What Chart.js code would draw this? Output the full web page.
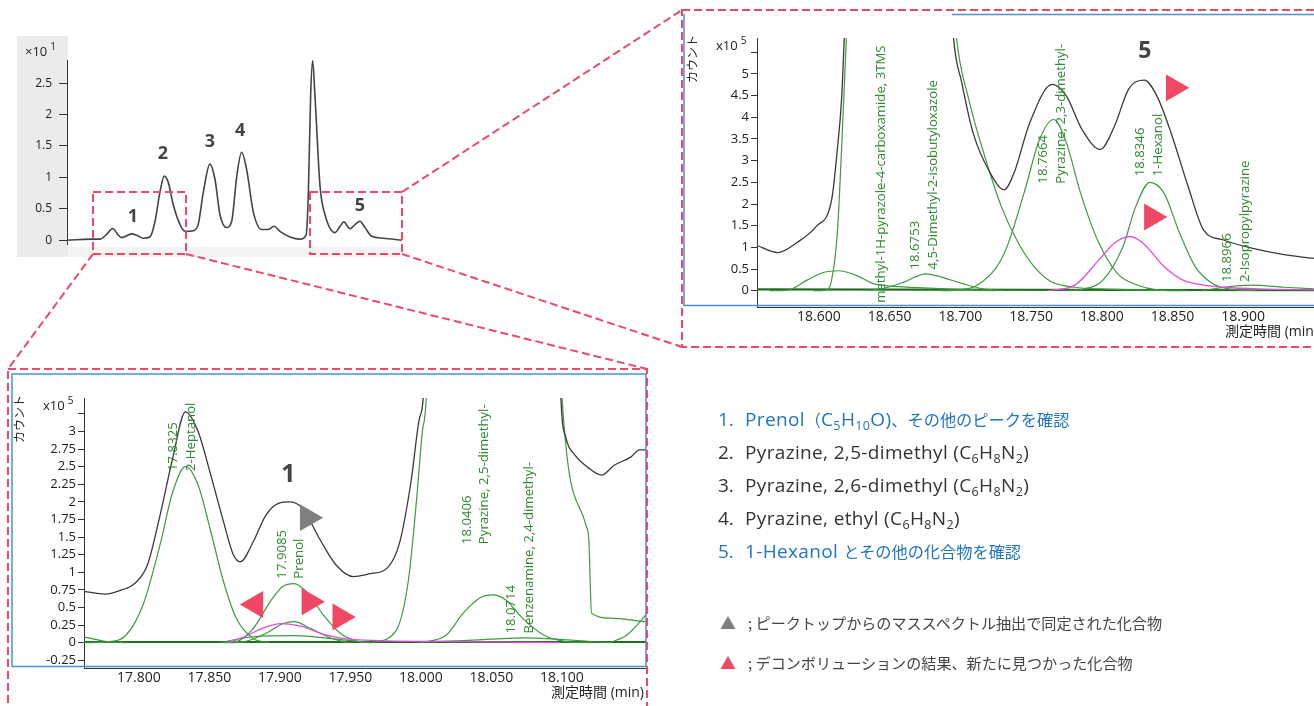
<!DOCTYPE html>
<html lang="ja">
<head>
<meta charset="utf-8">
<title>Deconvolution chromatogram</title>
<script src="https://cdn.jsdelivr.net/npm/chart.js@4.4.1/dist/chart.umd.min.js"></script>
<style>
  html, body { margin: 0; padding: 0; background: #fff; }
  body { width: 1314px; height: 706px; position: relative; overflow: hidden;
         font-family: 'Open Sans', 'Noto Sans CJK JP', sans-serif; }
  .box { position: absolute; }
  canvas { display: block; }
  svg { position: absolute; left: 0; top: 0; pointer-events: none; }
  .jp { font-family: 'Noto Sans CJK JP', sans-serif; letter-spacing: 0; }
  #legend { position: absolute; left: 718px; top: 403px; font-size: 19px; line-height: 33px;
            letter-spacing: 0.35px; color: #333; white-space: nowrap; }
  #legend .jp { font-size: 16.2px; }
  #legend .blue { color: #1f74c4; }
  #legend .num { display: inline-block; width: 27px; letter-spacing: 0; }
  #legend sub { font-size: 0.66em; vertical-align: -0.3em; line-height: 0; }
  #marks { position: absolute; left: 720px; top: 603px; font-size: 15.1px; line-height: 39px;
           color: #444; white-space: nowrap; }
  #marks .tri { display: inline-block; width: 28px; font-size: 16px; }
</style>
</head>
<body>
<svg width="1314" height="706">
  <rect x="17" y="36" width="51" height="221" fill="#ebebeb"/>
  <rect x="68" y="247" width="334" height="10" fill="#f3f3f3"/>
</svg>

<div class="box" style="left:17px;top:36px;"><canvas id="overview" width="390" height="221"></canvas></div>
<div class="box" style="left:684px;top:15px;"><canvas id="zoom5" width="636" height="335"></canvas></div>
<div class="box" style="left:12px;top:376px;"><canvas id="zoom1" width="634" height="330"></canvas></div>

<svg width="1314" height="706">
  <g stroke="#4a8fd6" stroke-width="1.5" fill="none">
    <path d="M952 14.5 H1314"/>
    <path d="M684 14 V305.5 H1314"/>
    <rect x="12" y="374" width="634" height="292.5"/>
  </g>
  <g stroke="#ec4a6c" stroke-width="2" stroke-dasharray="8 4" fill="none">
    <rect x="93" y="192" width="93" height="62"/>
    <rect x="310" y="192" width="92" height="62"/>
    <path d="M93 254 L8 369"/>
    <path d="M186 254 L647 369"/>
    <path d="M402 192 L682 10"/>
    <path d="M402 254 L682 347"/>
    <rect x="682" y="10" width="650" height="337"/>
    <rect x="8" y="369" width="639" height="350"/>
  </g>
</svg>

<div id="legend">
  <div class="blue"><span class="num">1.</span>Prenol<span class="jp">（</span>C<sub>5</sub>H<sub>10</sub>O)<span class="jp">、その他のピークを確認</span></div>
  <div><span class="num">2.</span>Pyrazine, 2,5-dimethyl (C<sub>6</sub>H<sub>8</sub>N<sub>2</sub>)</div>
  <div><span class="num">3.</span>Pyrazine, 2,6-dimethyl (C<sub>6</sub>H<sub>8</sub>N<sub>2</sub>)</div>
  <div><span class="num">4.</span>Pyrazine, ethyl (C<sub>6</sub>H<sub>8</sub>N<sub>2</sub>)</div>
  <div class="blue"><span class="num">5.</span>1-Hexanol <span class="jp">とその他の化合物を確認</span></div>
</div>
<div id="marks">
  <div><span class="tri" style="color:#808080">▲</span><span class="jp">; ピークトップからのマススペクトル抽出で同定された化合物</span></div>
  <div><span class="tri" style="color:#ef4764">▲</span><span class="jp">; デコンボリューションの結果、新たに見つかった化合物</span></div>
</div>

<script>
// ---- overview TIC ----
const overviewTime = [17.645, 17.731, 17.770, 17.796, 17.820, 17.842, 17.855, 17.895, 17.915, 17.941,
  17.967, 17.987, 18.006, 18.023, 18.039, 18.059, 18.085, 18.105, 18.138, 18.157, 18.177, 18.203,
  18.223, 18.243, 18.269, 18.289, 18.309, 18.328, 18.348, 18.374, 18.407, 18.433, 18.456, 18.479,
  18.519, 18.558, 18.582, 18.591, 18.600, 18.608, 18.617, 18.637, 18.657, 18.696, 18.716, 18.731,
  18.755, 18.768, 18.794, 18.814, 18.841, 18.886, 18.959];
const overviewTic = [0, 0.015, 0.015, 0.09, 0.185, 0.08, 0.04, 0.10, 0.077, 0.03,
  0.05, 0.30, 0.76, 1.02, 0.92, 0.56, 0.25, 0.14, 0.15, 0.25, 0.76, 1.21,
  0.97, 0.40, 0.20, 0.30, 1.02, 1.40, 1.12, 0.45, 0.17, 0.17, 0.22, 0.14,
  0.05, 0.015, 0.08, 0.76, 2.30, 2.86, 2.30, 0.86, 0.40, 0.12, 0.22, 0.29,
  0.18, 0.22, 0.30, 0.20, 0.06, 0.03, 0];
const overviewYTicks = [0, 0.5, 1, 1.5, 2, 2.5];
const overviewPeakNames = ['1', '2', '3', '4', '5'];
const overviewPeakAt = [[17.900, 0.37], [18.018, 1.37], [18.203, 1.56], [18.322, 1.74], [18.794, 0.54]];

// ---- zoom on peak 5 ----
const zoom5Tic = [[18.555, 1.06], [18.571, 0.88], [18.584, 1.10], [18.598, 1.48], [18.609, 2.10],
  [18.613, 3.26], [18.616, 4.41], [18.618, 5.9], [18.622, 9], [18.690, 9], [18.695, 5.9],
  [18.701, 4.80], [18.709, 3.64], [18.721, 2.72], [18.731, 2.33], [18.738, 2.72], [18.749, 3.87],
  [18.765, 4.76], [18.775, 4.49], [18.786, 3.72], [18.799, 3.26], [18.809, 3.80], [18.819, 4.65],
  [18.830, 4.86], [18.839, 4.49], [18.849, 3.64], [18.861, 2.41], [18.872, 1.40], [18.886, 1.17],
  [18.906, 0.98], [18.929, 0.83], [18.949, 0.75], [18.956, 0.73]];
const zoom5BigPeak = [[18.596, 0], [18.605, 0.015], [18.609, 0.25], [18.613, 1.33], [18.616, 3.26],
  [18.6195, 5.9], [18.624, 9], [18.690, 9], [18.697, 5.9], [18.706, 4.41], [18.718, 3.02],
  [18.729, 1.94], [18.741, 1.10], [18.752, 0.56], [18.764, 0.21], [18.781, 0.08], [18.800, 0.04],
  [18.830, 0.02], [18.860, 0]];
const zoom5Carboxamide = [[18.565, 0], [18.578, 0.015], [18.592, 0.25], [18.603, 0.42], [18.614, 0.46],
  [18.626, 0.36], [18.638, 0.17], [18.649, 0.11], [18.670, 0.07], [18.700, 0.03], [18.725, 0]];
const zoom5Oxazole = [[18.635, 0], [18.649, 0.08], [18.661, 0.21], [18.6755, 0.39], [18.686, 0.32],
  [18.701, 0.17], [18.715, 0.05], [18.730, 0]];
const zoom5Pyrazine23 = [[18.686, 0], [18.697, 0.015], [18.714, 0.17], [18.731, 0.86], [18.745, 2.25],
  [18.756, 3.49], [18.766, 3.95], [18.775, 3.41], [18.785, 2.25], [18.797, 1.17], [18.811, 0.40],
  [18.825, 0.13], [18.839, 0.02], [18.856, 0]];
const zoom5Hexanol = [[18.775, 0], [18.786, 0.03], [18.801, 0.25], [18.815, 1.02], [18.824, 1.94],
  [18.834, 2.50], [18.844, 2.25], [18.855, 1.33], [18.866, 0.56], [18.878, 0.17], [18.892, 0.03], [18.910, 0]];
const zoom5NewPeak = [[18.762, 0], [18.781, 0.13], [18.798, 0.71], [18.809, 1.10], [18.820, 1.25],
  [18.829, 1.10], [18.844, 0.56], [18.857, 0.25], [18.872, 0.13], [18.886, 0.08], [18.910, 0.04], [18.956, 0.02]];
const zoom5Isopropyl = [[18.870, 0], [18.895, 0.11], [18.906, 0.13], [18.929, 0.08], [18.956, 0.03]];
const zoom5Baseline = [[18.556, 0.03], [18.956, 0.01]];
const zoom5XTicks = [18.6, 18.65, 18.7, 18.75, 18.8, 18.85, 18.9];
const zoom5YTicks = [0, 0.5, 1, 1.5, 2, 2.5, 3, 3.5, 4, 4.5, 5, 5.5];
const zoom5YLabels = ['0', '0.5', '1', '1.5', '2', '2.5', '3', '3.5', '4', '4.5', '5', ''];
const zoom5LabelText = [
  ['methyl-1H-pyrazole-4-carboxamide, 3TMS'],
  ['18.6753', '4,5-Dimethyl-2-isobutyloxazole'],
  ['18.7664', 'Pyrazine, 2,3-dimethyl-'],
  ['18.8346', '1-Hexanol'],
  ['18.8966', '2-Isopropylpyrazine']
];
const zoom5LabelAt = [[18.6438, -0.28], [18.6743, 0.49], [18.7648, 2.47], [18.8337, 2.64], [18.8949, 0.2]];
const zoom5NewFound = [[18.8509, 4.68], [18.8354, 1.70]];

// ---- zoom on peak 1 ----
const zoom1Tic = [[17.761, 0.73], [17.776, 0.69], [17.788, 0.75], [17.797, 0.84], [17.806, 1.10],
  [17.815, 1.81], [17.824, 2.62], [17.833, 3.28], [17.842, 3.00], [17.851, 2.38], [17.860, 1.72],
  [17.867, 1.25], [17.872, 1.15], [17.881, 1.43], [17.890, 1.81], [17.899, 1.98], [17.907, 2.00],
  [17.916, 1.91], [17.928, 1.48], [17.940, 1.10], [17.952, 0.94], [17.964, 0.98], [17.976, 1.06],
  [17.985, 1.43], [17.993, 2.29], [17.999, 3.19], [18.002, 3.6], [18.006, 8], [18.095, 8],
  [18.099, 3.6], [18.103, 2.90], [18.109, 2.67], [18.119, 2.48], [18.128, 2.38], [18.137, 2.52],
  [18.149, 2.64], [18.155, 2.74], [18.162, 2.74]];
const zoom1LeftTail = [[17.761, 0.085], [17.776, 0.02], [17.791, 0]];
const zoom1Heptanol = [[17.761, 0], [17.779, 0.015], [17.791, 0.11], [17.803, 0.54], [17.815, 1.39],
  [17.824, 2.14], [17.833, 2.50], [17.842, 2.24], [17.851, 1.58], [17.860, 0.87], [17.869, 0.35],
  [17.881, 0.06], [17.893, 0]];
const zoom1Prenol = [[17.860, 0], [17.869, 0.015], [17.881, 0.2], [17.893, 0.58], [17.902, 0.80],
  [17.910, 0.84], [17.919, 0.72], [17.931, 0.39], [17.943, 0.13], [17.955, 0.02], [17.965, 0]];
const zoom1Minor = [[17.865, 0], [17.875, 0.015], [17.890, 0.13], [17.902, 0.27], [17.910, 0.30],
  [17.922, 0.20], [17.937, 0.06], [17.949, 0]];
const zoom1Broad = [[17.857, 0], [17.881, 0.085], [17.910, 0.10], [17.940, 0.05], [17.964, 0]];
const zoom1NewPeak = [[17.863, 0], [17.875, 0.085], [17.887, 0.2], [17.901, 0.27], [17.916, 0.23],
  [17.931, 0.12], [17.949, 0.05], [17.970, 0.03], [18.030, 0.015], [18.099, 0]];
const zoom1BigPeak = [[17.965, 0], [17.982, 0.16], [17.991, 0.87], [17.997, 2.05], [18.001, 3.0],
  [18.004, 3.6], [18.008, 8], [18.092, 8], [18.100, 3.5], [18.117, 1.67], [18.119, 1.48],
  [18.121, 0.42], [18.134, 0.35], [18.158, 0.30], [18.162, 0.29]];
const zoom1Pyrazine25 = [[18.000, 0], [18.018, 0.11], [18.030, 0.42], [18.042, 0.64], [18.051, 0.68],
  [18.060, 0.61], [18.072, 0.35], [18.087, 0.11], [18.102, 0.02], [18.120, 0]];
const zoom1Benzenamine = [[17.999, 0.01], [18.030, 0.03], [18.073, 0.07], [18.104, 0.04], [18.134, 0]];
const zoom1RightRise = [[18.134, 0], [18.146, 0.11], [18.162, 0.45]];
const zoom1Baseline = [[17.760, 0.01], [18.162, 0.01]];
const zoom1XTicks = [17.8, 17.85, 17.9, 17.95, 18.0, 18.05, 18.1];
const zoom1YTicks = [-0.25, 0, 0.25, 0.5, 0.75, 1, 1.25, 1.5, 1.75, 2, 2.25, 2.5, 2.75, 3, 3.25];
const zoom1YLabels = ['-0.25', '0', '0.25', '0.5', '0.75', '1', '1.25', '1.5', '1.75', '2', '2.25',
  '2.5', '2.75', '3', ''];
const zoom1LabelText = [
  ['17.8325', '2-Heptanol'],
  ['17.9085', 'Prenol'],
  ['18.0406', 'Pyrazine, 2,5-dimethyl-'],
  ['18.0714', 'Benzenamine, 2,4-dimethyl-']
];
const zoom1LabelAt = [[17.8306, 2.44], [17.9077, 0.91], [18.0388, 1.40], [18.0706, 0.13]];
const zoom1PeakTop = [[17.9197, 1.776]];
const zoom1NewFound = [[17.8826, 0.543], [17.9209, 0.582], [17.9428, 0.365]];
const zoom1NewFoundDir = ['left', 'right', 'right'];

const FONT = "'Open Sans', 'Noto Sans CJK JP', sans-serif";
const JP = "'Noto Sans CJK JP', sans-serif";
const BLACK = '#3a3a3a';
const GREEN = '#3f9a3f';
const PINK = '#e24ce2';
const RED = '#ef4764';

Chart.defaults.font.family = FONT;
Chart.defaults.color = '#222';

const toXY = arr => arr.map(([x, y]) => ({ x, y }));

function curve(points, color, width, order) {
  return {
    data: toXY(points), borderColor: color, borderWidth: width, pointRadius: 0,
    cubicInterpolationMode: 'monotone', fill: false, order: order
  };
}

function markers(points, color, dirs) {
  return {
    data: toXY(points), showLine: false, order: 0,
    pointStyle: 'triangle', pointRadius: 15.5, pointBorderWidth: 0,
    pointBackgroundColor: color,
    pointRotation: points.map((p, i) => (dirs && dirs[i] === 'left') ? -90 : 90)
  };
}

// draws rotated peak names, the big peak numbers and the axis captions
function annotations(cfg) {
  return {
    id: 'annot',
    afterDatasetsDraw(chart) {
      const { ctx, chartArea: a, scales: { x, y } } = chart;
      ctx.save();
      ctx.beginPath();
      ctx.rect(a.left, a.top, a.width, a.height);
      ctx.clip();
      ctx.fillStyle = '#2f8a2f';
      ctx.font = '13.2px ' + FONT;
      ctx.textAlign = 'left';
      ctx.textBaseline = 'middle';
      (cfg.labels || []).forEach((lines, i) => {
        const px = x.getPixelForValue(cfg.labelAt[i][0]);
        const py = y.getPixelForValue(cfg.labelAt[i][1]);
        lines.forEach((t, j) => {
          const off = (j - (lines.length - 1) / 2) * 17.5;
          ctx.save();
          ctx.translate(px + off, py);
          ctx.rotate(-Math.PI / 2);
          ctx.fillText(t, 0, 0);
          ctx.restore();
        });
      });
      ctx.fillStyle = '#444';
      ctx.font = cfg.numberFont;
      ctx.textAlign = 'center';
      cfg.numbers.forEach((n, i) => {
        ctx.fillText(n, x.getPixelForValue(cfg.numberAt[i][0]), y.getPixelForValue(cfg.numberAt[i][1]));
      });
      ctx.restore();
    },
    afterDraw(chart) {
      const { ctx, chartArea: a } = chart;
      ctx.save();
      ctx.fillStyle = '#222';
      ctx.textBaseline = 'middle';
      ctx.textAlign = 'left';
      ctx.font = '13px ' + FONT;
      const ex = a.left + cfg.expAt[0], ey = a.top + cfg.expAt[1];
      ctx.fillText(cfg.expBase, ex, ey);
      const w = ctx.measureText(cfg.expBase).width;
      ctx.font = '10px ' + FONT;
      ctx.fillText(cfg.exp, ex + w + 3, ey - 5);
      if (cfg.yTitle) {
        ctx.save();
        ctx.font = '12px ' + JP;
        ctx.textAlign = 'center';
        ctx.translate(a.left - 65, a.top + 21);
        ctx.rotate(-Math.PI / 2);
        ctx.fillText(cfg.yTitle, 0, 0);
        ctx.restore();
      }
      if (cfg.xTitle) {
        ctx.font = '14px ' + FONT;
        ctx.textAlign = 'right';
        ctx.fillText(cfg.xTitle, a.right - 2, a.bottom + 25);
      }
      ctx.restore();
    }
  };
}

function yAxis(min, max, ticks, labels, width, font, tickLength, padding) {
  return {
    type: 'linear', min: min, max: max,
    afterBuildTicks: s => { s.ticks = ticks.map(v => ({ value: v })); },
    afterFit: s => { s.width = width; },
    grid: { drawOnChartArea: false, drawTicks: true, tickLength: tickLength, color: '#333' },
    border: { display: true, color: '#333', width: 1 },
    ticks: {
      autoSkip: false, padding: padding, color: '#222', font: font,
      callback: (v, i) => labels ? labels[i] : String(v)
    }
  };
}

function xAxis(min, max, ticks, height) {
  return {
    type: 'linear', min: min, max: max,
    afterBuildTicks: s => { s.ticks = ticks.map(v => ({ value: v })); },
    afterFit: s => { s.height = height; },
    grid: { display: false, drawTicks: false },
    border: { display: true, color: '#333', width: 1 },
    ticks: {
      autoSkip: false, maxRotation: 0, padding: 3, color: '#222',
      font: { size: 14, lineHeight: 1 },
      callback: v => v.toFixed(3)
    }
  };
}

const baseOptions = {
  responsive: false,
  animation: false,
  events: [],
  plugins: { legend: { display: false }, tooltip: { enabled: false } }
};

// overview
new Chart(document.getElementById('overview'), {
  type: 'line',
  data: {
    datasets: [curve(overviewTime.map((t, i) => [t, overviewTic[i]]), '#444', 1.6, 1)]
  },
  options: Object.assign({}, baseOptions, {
    layout: { autoPadding: false, padding: { top: 24, right: 5, bottom: 7, left: 0 } },
    scales: {
      x: { type: 'linear', min: 17.64, max: 18.96, display: false },
      y: yAxis(-0.062, 2.87, overviewYTicks, null, 50,
        { size: 12, lineHeight: 1, family: "'Liberation Sans Narrow', " + FONT }, 8, 7)
    }
  }),
  plugins: [annotations({
    numbers: overviewPeakNames, numberAt: overviewPeakAt, numberFont: 'bold 18px ' + FONT,
    expBase: '×10', exp: '1', expAt: [-42, -8]
  })]
});

// zoom on peak 5
new Chart(document.getElementById('zoom5'), {
  type: 'line',
  data: {
    datasets: [
      markers(zoom5NewFound, RED),
      curve(zoom5Tic, BLACK, 1.3, 1),
      curve(zoom5NewPeak, PINK, 1.3, 2),
      curve(zoom5BigPeak, GREEN, 1.2, 3),
      curve(zoom5Carboxamide, GREEN, 1.2, 3),
      curve(zoom5Oxazole, GREEN, 1.2, 3),
      curve(zoom5Pyrazine23, GREEN, 1.2, 3),
      curve(zoom5Hexanol, GREEN, 1.2, 3),
      curve(zoom5Isopropyl, GREEN, 1.2, 3),
      curve(zoom5Baseline, '#1f6f1f', 2.2, 4)
    ]
  },
  options: Object.assign({}, baseOptions, {
    layout: { autoPadding: false, padding: { top: 23, right: 0, bottom: 0, left: 0 } },
    scales: {
      x: xAxis(18.5562, 18.9543, zoom5XTicks, 43),
      y: yAxis(-0.376, 5.83, zoom5YTicks, zoom5YLabels, 73, { size: 13, lineHeight: 1 }, 6, 2)
    }
  }),
  plugins: [annotations({
    labels: zoom5LabelText, labelAt: zoom5LabelAt,
    numbers: ['5'], numberAt: [[18.8305, 5.52]], numberFont: 'bold 23px ' + FONT,
    expBase: 'x10', exp: '5', expAt: [-41, 8], yTitle: 'カウント', xTitle: '測定時間 (min)'
  })]
});

// zoom on peak 1
new Chart(document.getElementById('zoom1'), {
  type: 'line',
  data: {
    datasets: [
      markers(zoom1PeakTop, '#808080'),
      markers(zoom1NewFound, RED, zoom1NewFoundDir),
      curve(zoom1Tic, BLACK, 1.3, 1),
      curve(zoom1NewPeak, PINK, 1.3, 2),
      curve(zoom1LeftTail, GREEN, 1.2, 3),
      curve(zoom1Heptanol, GREEN, 1.2, 3),
      curve(zoom1Prenol, GREEN, 1.2, 3),
      curve(zoom1Minor, GREEN, 1.2, 3),
      curve(zoom1Broad, GREEN, 1.2, 3),
      curve(zoom1BigPeak, GREEN, 1.2, 3),
      curve(zoom1Pyrazine25, GREEN, 1.2, 3),
      curve(zoom1Benzenamine, GREEN, 1.2, 3),
      curve(zoom1RightRise, GREEN, 1.2, 3),
      curve(zoom1Baseline, '#1f6f1f', 2.2, 4)
    ]
  },
  options: Object.assign({}, baseOptions, {
    layout: { autoPadding: false, padding: { top: 22, right: 0, bottom: 0, left: 0 } },
    scales: {
      x: xAxis(17.7611, 18.1596, zoom1XTicks, 38),
      y: yAxis(-0.359, 3.476, zoom1YTicks, zoom1YLabels, 72, { size: 13, lineHeight: 1 }, 6, 2)
    }
  }),
  plugins: [annotations({
    labels: zoom1LabelText, labelAt: zoom1LabelAt,
    numbers: ['1'], numberAt: [[17.906, 2.38]], numberFont: 'bold 25px ' + FONT,
    expBase: 'x10', exp: '5', expAt: [-41, 8], yTitle: 'カウント', xTitle: '測定時間 (min)'
  })]
});
</script>
</body>
</html>
